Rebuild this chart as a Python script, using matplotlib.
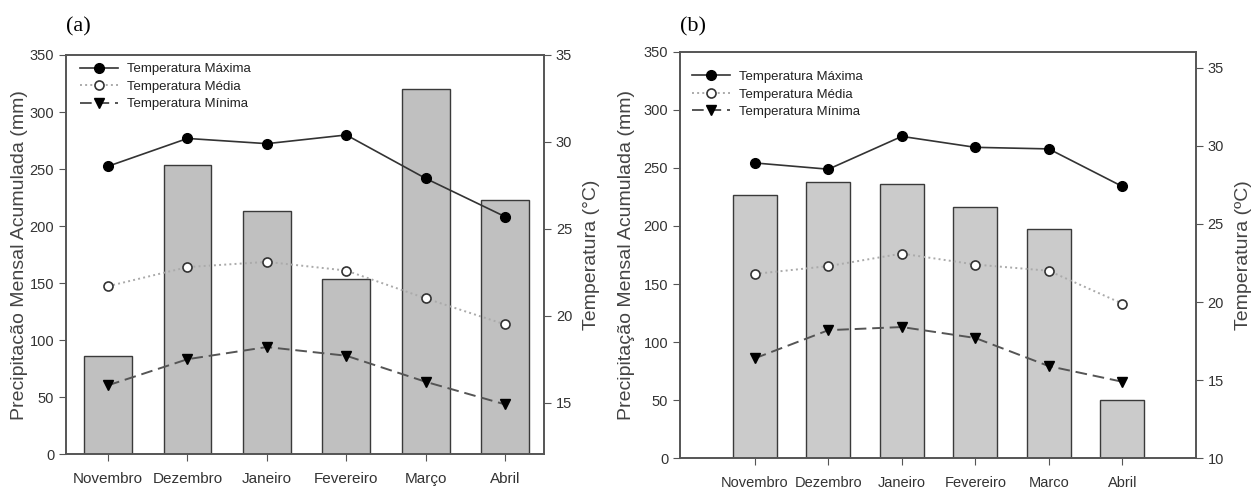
import numpy as np
import matplotlib
matplotlib.use('Agg')
import matplotlib.pyplot as plt

plt.rcParams['font.family'] = ['Liberation Sans', 'DejaVu Sans']

# data
meses_a = ['Novembro', 'Dezembro', 'Janeiro', 'Fevereiro', 'Março', 'Abril']
meses_b = ['Novembro', 'Dezembro', 'Janeiro', 'Fevereiro', 'Marco', 'Abril']

prec_a = [86, 254, 213, 154, 320, 223]
tmax_a = [28.6, 30.2, 29.9, 30.4, 27.9, 25.7]
tmed_a = [21.7, 22.8, 23.1, 22.6, 21.0, 19.5]
tmin_a = [16.0, 17.5, 18.2, 17.7, 16.2, 14.9]

prec_b = [227, 238, 236, 216, 197, 50]
tmax_b = [28.9, 28.5, 30.6, 29.9, 29.8, 27.4]
tmed_b = [21.8, 22.3, 23.1, 22.4, 22.0, 19.9]
tmin_b = [16.4, 18.2, 18.4, 17.7, 15.9, 14.9]

leg_labels = ['Temperatura Máxima', 'Temperatura Média', 'Temperatura Mínima']

W, H = 1258, 488
fig = plt.figure(figsize=(W / 100, H / 100), dpi=100)

txt = '#333333'
lab = '#444444'


def rect(x0, x1, y0, y1):
    # pixel box -> figure fraction
    return [x0 / W, 1 - y1 / H, (x1 - x0) / W, (y1 - y0) / H]


def painel(r, meses, prec, tmax, tmed, tmin, xlim, tlim, tticks, barcol,
           ylab, tlab, leg_xy, tick_fs, ypad):
    ax = fig.add_axes(r)
    x = np.arange(len(meses))
    ax.bar(x, prec, width=0.6, color=barcol, edgecolor='#3a3a3a', linewidth=1.0, zorder=2)
    ax.set_xlim(*xlim)
    ax.set_ylim(0, 350)
    ax.set_yticks(np.arange(0, 351, 50))
    ax.set_xticks(x)
    ax.set_xticklabels(meses, fontsize=tick_fs, color=txt)
    ax.tick_params(axis='y', labelsize=10.5, labelcolor=txt, direction='out', length=5, color='#555555')
    ax.tick_params(axis='x', direction='out', length=5, color='#555555', pad=8)
    ax.set_ylabel(ylab, fontsize=14, color=lab, labelpad=ypad)
    for s in ax.spines.values():
        s.set_color('#555555')
        s.set_linewidth(1.2)

    ax2 = ax.twinx()
    ax2.plot(x, tmax, color='#333333', lw=1.2, marker='o', ms=7, mfc='black', mec='black',
             label=leg_labels[0])
    ax2.plot(x, tmed, color='#aaaaaa', lw=1.4, ls=':', marker='o', ms=6.5, mfc='white',
             mec='#333333', mew=1.2, label=leg_labels[1])
    ax2.plot(x, tmin, color='#555555', lw=1.4, ls=(0, (6, 3)), marker='v', ms=7,
             mfc='black', mec='black', label=leg_labels[2])
    ax2.set_ylim(*tlim)
    ax2.set_yticks(tticks)
    ax2.tick_params(axis='y', labelsize=10.5, labelcolor=txt, direction='out', length=5, color='#555555')
    ax2.set_ylabel(tlab, fontsize=14, color=lab, labelpad=8)
    for s in ax2.spines.values():
        s.set_color('#555555')
        s.set_linewidth(1.2)
    ax2.legend(loc='upper left', bbox_to_anchor=leg_xy, frameon=False, fontsize=9.5,
               handlelength=2.9, handletextpad=0.7, labelspacing=0.4, borderpad=0,
               borderaxespad=0, labelcolor='#222222')
    return ax, ax2


painel(rect(66, 544, 55, 454.3), meses_a, prec_a, tmax_a, tmed_a, tmin_a,
       (-0.53, 5.49), (12.03, 35), [15, 20, 25, 30, 35], '#c0c0c0',
       'Precipitacão Mensal Acumulada (mm)', 'Temperatura (°C)', (0.029, 0.98), 11, 1)

painel(rect(680, 1195.7, 51.7, 458.3), meses_b, prec_b, tmax_b, tmed_b, tmin_b,
       (-1.02, 6.0), (10, 36.02), [10, 15, 20, 25, 30, 35], '#cbcbcb',
       'Precipitação Mensal Acumulada (mm)', 'Temperatura (ºC)', (0.023, 0.953), 10.5, 6)

fig.text(66 / W, 1 - 27 / H, '(a)', fontsize=16, family=['Liberation Serif', 'DejaVu Serif'],
         va='center', ha='left', color='black')
fig.text(680 / W, 1 - 27 / H, '(b)', fontsize=16, family=['Liberation Serif', 'DejaVu Serif'],
         va='center', ha='left', color='black')

fig.savefig('out.png', dpi=100)
